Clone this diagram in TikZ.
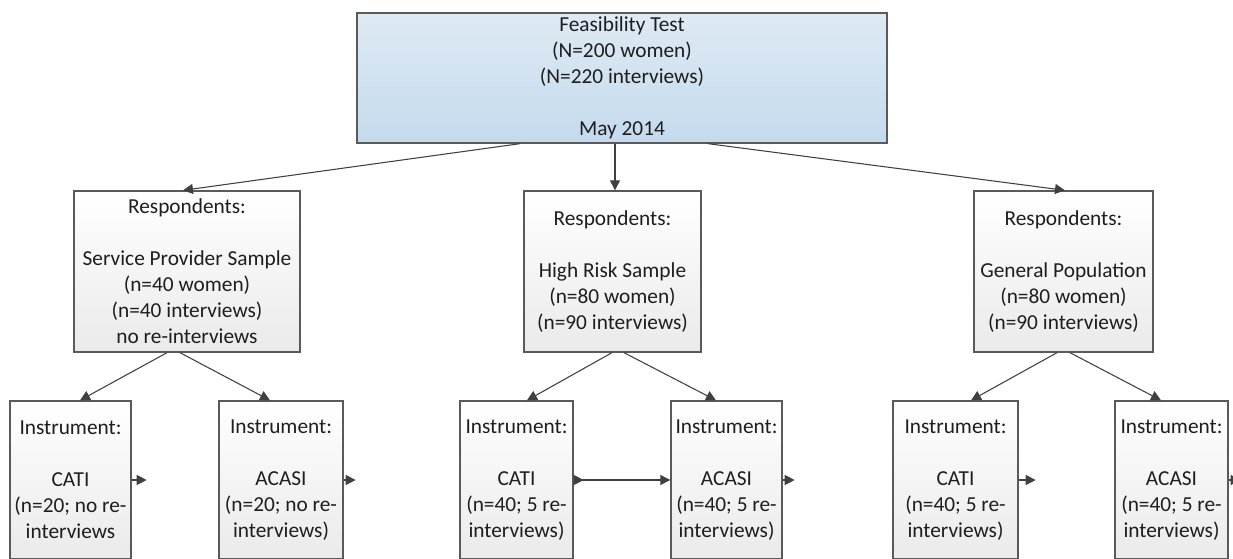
\documentclass[tikz,border=0pt]{standalone}
\usepackage{fontspec}
\setmainfont{Carlito}
\usetikzlibrary{arrows.meta,calc}
\definecolor{bordergray}{RGB}{90,90,90}
\definecolor{arrowgray}{RGB}{64,64,64}
\definecolor{boxgray}{RGB}{234,234,234}
\definecolor{bluetop}{RGB}{222,234,244}
\definecolor{bluebot}{RGB}{196,218,237}
\definecolor{txt}{RGB}{30,30,30}
\begin{document}
\begin{tikzpicture}[x=0.75pt,y=-0.75pt,
  box/.style={draw=bordergray, line width=1pt, top color=white, bottom color=boxgray,
    inner sep=0pt, align=center, text=txt, font=\fontsize{16}{19.5}\selectfont},
  bluebox/.style={box, top color=bluetop, bottom color=bluebot},
  conn/.style={draw=arrowgray, line width=0.8pt, -{Triangle[length=7.5pt,width=7.5pt]}}
]
\useasboundingbox (0,0) rectangle (1233,558);
\clip (0,0) rectangle (1233,558);

% top
\node[bluebox, minimum width={530*0.75pt}, minimum height={130*0.75pt}] (top) at (622,78)
  {Feasibility Test\\(N=200 women)\\(N=220 interviews)\\[19.5pt]May 2014};

% respondents
\node[box, minimum width={226*0.75pt}, minimum height={161*0.75pt}] (r1) at (187,271.5)
  {Respondents:\\[19.5pt]Service Provider Sample\\(n=40 women)\\(n=40 interviews)\\no re-interviews};
\node[box, minimum width={177*0.75pt}, minimum height={161*0.75pt}] (r2) at (612.5,271.5)
  {Respondents:\\[19.5pt]High Risk Sample\\(n=80 women)\\(n=90 interviews)};
\node[box, minimum width={179*0.75pt}, minimum height={161*0.75pt}] (r3) at (1063.5,271.5)
  {Respondents:\\[19.5pt]General Population\\(n=80 women)\\(n=90 interviews)};

% instruments
\node[box, minimum width={121*0.75pt}, minimum height={158*0.75pt}] (i1) at (70.5,480)
  {Instrument:\\[19.5pt]CATI\\(n=20; no re-\\interviews};
\node[box, minimum width={124*0.75pt}, minimum height={158*0.75pt}] (i2) at (281,480)
  {Instrument:\\[19.5pt]ACASI\\(n=20; no re-\\interviews)};
\node[box, minimum width={113*0.75pt}, minimum height={158*0.75pt}] (i3) at (516.5,480)
  {Instrument:\\[19.5pt]CATI\\(n=40; 5 re-\\interviews)};
\node[box, minimum width={111*0.75pt}, minimum height={158*0.75pt}] (i4) at (726.5,480)
  {Instrument:\\[19.5pt]ACASI\\(n=40; 5 re-\\interviews)};
\node[box, minimum width={125*0.75pt}, minimum height={158*0.75pt}] (i5) at (955.5,480)
  {Instrument:\\[19.5pt]CATI\\(n=40; 5 re-\\interviews)};
\node[box, minimum width={113*0.75pt}, minimum height={158*0.75pt}] (i6) at (1171.5,480)
  {Instrument:\\[19.5pt]ACASI\\(n=40; 5 re-\\interviews)};

% top connectors
\coordinate (tm) at ([xshift={-7*0.75pt}]top.south);
\draw[conn] ([xshift={-102*0.75pt}]top.south) -- ([xshift={-4*0.75pt}]r1.north);
\draw[conn] (tm) -- (tm |- r2.north);
\draw[conn] ([xshift={86*0.75pt}]top.south) -- ([xshift={1.5*0.75pt}]r3.north);

% respondents -> instruments
\draw[conn] ([xshift={-20*0.75pt}]r1.south) -- ([xshift={9.5*0.75pt}]i1.north);
\draw[conn] ([xshift={-7*0.75pt}]r1.south) -- ([xshift={-11*0.75pt}]i2.north);
\draw[conn] ([xshift={-0.5*0.75pt}]r2.south) -- ([xshift={10.5*0.75pt}]i3.north);
\draw[conn] ([xshift={11.5*0.75pt}]r2.south) -- ([xshift={-10.5*0.75pt}]i4.north);
\draw[conn] ([xshift={-6.5*0.75pt}]r3.south) -- ([xshift={15.5*0.75pt}]i5.north);
\draw[conn] ([xshift={6.5*0.75pt}]r3.south) -- ([xshift={-10.5*0.75pt}]i6.north);

% instrument stubs
\coordinate (s1) at ([xshift={15*0.75pt}]i1.east);
\coordinate (s2) at ([xshift={12*0.75pt}]i2.east);
\coordinate (s3) at ([xshift={10*0.75pt}]i3.east);
\coordinate (s4) at ([xshift={12*0.75pt}]i4.east);
\coordinate (s5) at ([xshift={17*0.75pt}]i5.east);
\coordinate (s6) at ([xshift={12*0.75pt}]i6.east);
\draw[conn] (i1.east) -- (s1);
\draw[conn] (i2.east) -- (s2);
\draw[conn] (i3.east) -- (s3);
\draw[conn] (i3.east) -- (i4.west);
\draw[conn] (i4.east) -- (s4);
\draw[conn] (i5.east) -- (s5);
\draw[conn] (i6.east) -- (s6);
\end{tikzpicture}
\end{document}
